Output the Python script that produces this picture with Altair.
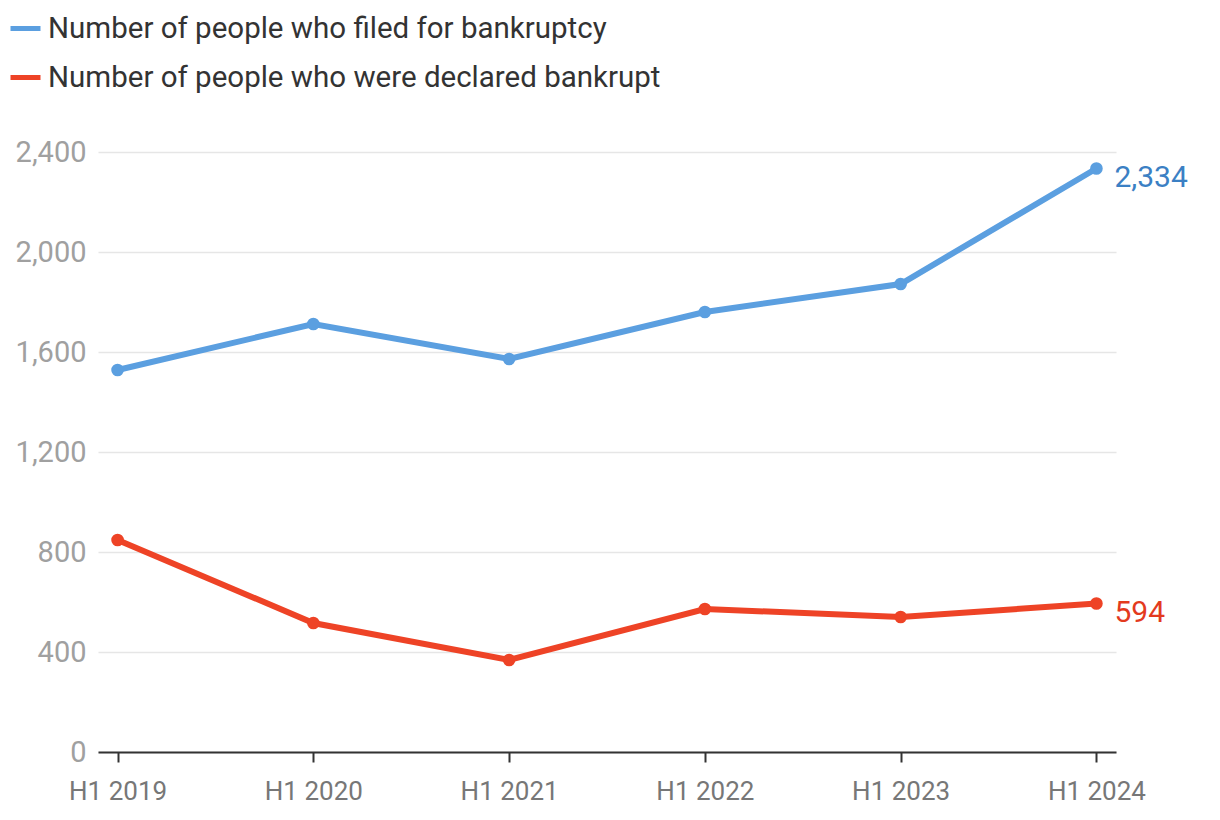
import altair as alt
import pandas as pd

periods = ["H1 2019", "H1 2020", "H1 2021", "H1 2022", "H1 2023", "H1 2024"]
filed = [1528, 1712, 1572, 1760, 1872, 2334]
declared = [848, 516, 368, 572, 540, 594]
series_names = ["Number of people who filed for bankruptcy", "Number of people who were declared bankrupt"]
colors = ["#5b9fe0", "#ee4326"]
label_colors = ["#3b80c4", "#e33a1e"]

rows = []
for i, p in enumerate(periods):
    rows.append({"period": p, "series": series_names[0], "value": filed[i], "order": i})
    rows.append({"period": p, "series": series_names[1], "value": declared[i], "order": i})
df = pd.DataFrame(rows)
last = df[df["period"] == periods[-1]].copy()
last["label"] = last["value"].map(lambda v: f"{v:,}")

FONT = "Roboto"

x = alt.X("period:O", sort=periods, title=None,
          scale=alt.Scale(type="point", padding=0.1),
          axis=alt.Axis(labelAngle=0, domainColor="#333333", domainWidth=2,
                        tickColor="#333333", tickWidth=2, tickSize=10,
                        labelFontSize=26, labelColor="#777777", labelFont=FONT,
                        labelPadding=16, grid=False))
y = alt.Y("value:Q", title=None,
          scale=alt.Scale(domain=[0, 2400], nice=False),
          axis=alt.Axis(values=[0, 400, 800, 1200, 1600, 2000, 2400], format=",d",
                        ticks=False, domain=False, gridColor="#e6e6e6", gridWidth=1.5,
                        labelFontSize=29, labelColor="#a0a0a0", labelFont=FONT,
                        labelPadding=12))
color = alt.Color("series:N", scale=alt.Scale(domain=series_names, range=colors),
                  legend=alt.Legend(orient="none", legendX=-90, legendY=-141, title=None,
                                    symbolType="stroke", symbolSize=900, symbolStrokeWidth=5,
                                    labelFontSize=29.5, labelFont=FONT, labelColor="#333333",
                                    labelOffset=5, rowPadding=17, labelLimit=800))

base = alt.Chart(df)
lines = base.mark_line(strokeWidth=6).encode(x=x, y=y, color=color, order="order:Q")
points = base.mark_point(filled=True, size=160, opacity=1).encode(x=x, y=y, color=alt.Color("series:N", scale=alt.Scale(domain=series_names, range=colors), legend=None))
labels = alt.Chart(last).mark_text(align="left", baseline="middle", dx=18, dy=9, fontSize=30, font=FONT).encode(
    x=x, y=y, text="label:N",
    color=alt.Color("series:N", scale=alt.Scale(domain=series_names, range=label_colors), legend=None))

chart = alt.layer(lines, points, labels).resolve_scale(color="independent").properties(
    width=1018, height=600,
    autosize=alt.AutoSizeParams(type="none"),
    padding={"left": 90, "top": 144, "right": 96, "bottom": 56},
    view=alt.ViewBackground(stroke="transparent", strokeWidth=0),
).configure_view(stroke="transparent", strokeWidth=0).configure_axisX(grid=False).configure(font=FONT)

chart.save("out.html", embed_options={"renderer": "svg", "actions": False})
